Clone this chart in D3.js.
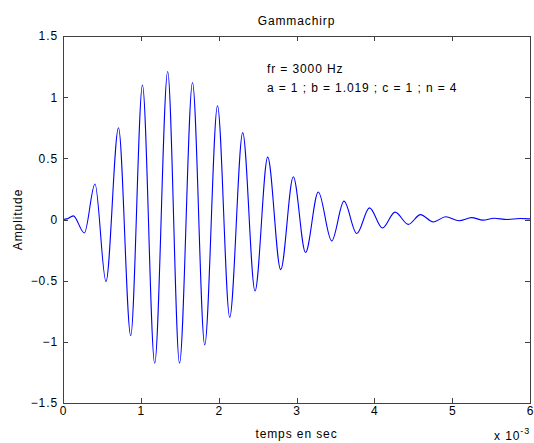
<!DOCTYPE html>
<html>
<head>
<meta charset="utf-8">
<script src="https://cdn.jsdelivr.net/npm/d3@7"></script>
<style>
  body { margin: 0; background: #fff; }
  svg text { font-family: "Liberation Sans", Arial, sans-serif; fill: #000; letter-spacing: 0.9px; }
</style>
</head>
<body>
<svg id="chart" width="534" height="443"></svg>
<script>
// time in units of 1e-3 s at each peak / trough
const timeMs = [0, 0.05, 0.132, 0.274, 0.411, 0.552, 0.713, 0.870, 1.021, 1.178,
  1.345, 1.497, 1.664, 1.821, 1.985, 2.142, 2.309, 2.467, 2.630, 2.797,
  2.959, 3.116, 3.280, 3.452, 3.610, 3.774, 3.938, 4.105, 4.266, 4.437,
  4.593, 4.758, 4.917, 5.088, 5.251, 5.396, 5.538, 5.705, 5.872, 6.0];
const amplitude = [0, 0.005, 0.03, -0.11, 0.29, -0.507, 0.75, -0.95, 1.10, -1.175,
  1.21, -1.175, 1.12, -1.025, 0.93, -0.80, 0.71, -0.585, 0.51, -0.41,
  0.35, -0.27, 0.225, -0.175, 0.15, -0.115, 0.095, -0.07, 0.06, -0.04,
  0.04, -0.02, 0.022, -0.01, 0.015, -0.005, 0.01, 0.0, 0.008, 0.005];
const xTicks = [0, 1, 2, 3, 4, 5, 6];
const yTicks = [-1.5, -1, -0.5, 0, 0.5, 1, 1.5];

const svg = d3.select("#chart");
const margin = {top: 36, right: 4, bottom: 40, left: 63};
const width = 534, height = 443;

const x = d3.scaleLinear().domain([0, 6]).range([margin.left, width - margin.right]);
const y = d3.scaleLinear().domain([-1.5, 1.5]).range([height - margin.bottom, margin.top]);

const data = timeMs.map((t, i) => ({t: t, v: amplitude[i]}));

// the curve
svg.append("path")
  .datum(data)
  .attr("fill", "none")
  .attr("stroke", "#0000ff")
  .attr("stroke-width", 1.1)
  .attr("d", d3.line()
    .x(d => x(d.t))
    .y(d => y(d.v))
    .curve(d3.curveMonotoneX));

// axes, ticks pointing inward like matlab
const tickLen = 5;
svg.append("g")
  .attr("transform", `translate(0,${y(-1.5)})`)
  .call(d3.axisBottom(x).tickValues(xTicks).tickSizeInner(-tickLen).tickSizeOuter(0).tickPadding(3).tickFormat(d3.format("d")));
svg.append("g")
  .attr("transform", `translate(0,${y(1.5)})`)
  .call(d3.axisTop(x).tickValues(xTicks).tickSizeInner(-tickLen).tickSizeOuter(0).tickFormat(""));
svg.append("g")
  .attr("transform", `translate(${x(0)},0)`)
  .call(d3.axisLeft(y).tickValues(yTicks).tickSizeInner(-tickLen).tickSizeOuter(0).tickPadding(5).tickFormat(d => d3.format("")(d)));
svg.append("g")
  .attr("transform", `translate(${x(6)},0)`)
  .call(d3.axisRight(y).tickValues(yTicks).tickSizeInner(-tickLen).tickSizeOuter(0).tickFormat(""));

svg.selectAll(".domain, .tick line").attr("stroke", "#404040").attr("shape-rendering", "crispEdges");
svg.selectAll(".tick text").attr("font-size", 12).attr("font-family", "Liberation Sans, Arial, sans-serif").attr("fill", "#000");

// texts
svg.append("text").attr("x", (x(0) + x(6)) / 2).attr("y", 25)
  .attr("text-anchor", "middle").attr("font-size", 12).text("Gammachirp");
svg.append("text").attr("x", (x(0) + x(6)) / 2).attr("y", 438)
  .attr("text-anchor", "middle").attr("font-size", 12).text("temps en sec");
svg.append("text").attr("transform", `translate(22,${y(0)}) rotate(-90)`)
  .attr("text-anchor", "middle").attr("font-size", 12).text("Amplitude");
svg.append("text").attr("x", x(2.62)).attr("y", 73).attr("font-size", 12).text("fr = 3000 Hz");
svg.append("text").attr("x", x(2.62)).attr("y", 92).attr("font-size", 12).text("a = 1 ; b = 1.019 ; c = 1 ; n = 4");

const exp = svg.append("text").attr("x", 494).attr("y", 440).attr("font-size", 12);
exp.append("tspan").text("x 10");
exp.append("tspan").attr("dy", -6).attr("font-size", 9).text("-3");
</script>
</body>
</html>
